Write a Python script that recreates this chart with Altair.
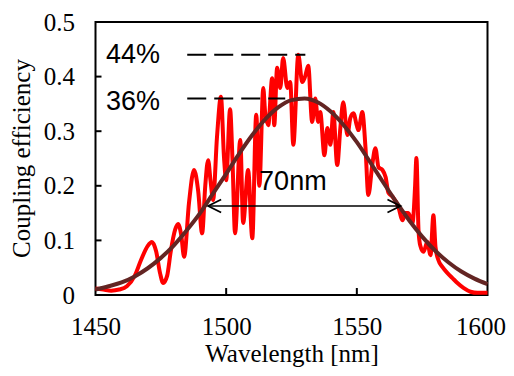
import altair as alt
import pandas as pd

# ---- data ----
red_wl = [1450.0, 1453.0, 1456.0, 1459.0, 1462.0, 1465.0, 1467.5, 1470.0, 1471.6, 1473.2,
          1474.7, 1475.9, 1477.4, 1478.8, 1480.5, 1481.6, 1482.8, 1483.9, 1485.8, 1487.7,
          1489.3, 1490.8, 1492.0, 1493.1, 1494.0, 1495.0, 1496.5, 1498.0, 1499.2, 1500.0,
          1501.5, 1502.4, 1503.4, 1505.4, 1506.5, 1508.4, 1510.0, 1511.5, 1512.7, 1514.2,
          1514.9, 1516.1, 1517.6, 1518.4, 1519.5, 1520.7, 1521.8, 1523.4, 1524.5, 1525.7,
          1527.6, 1529.1, 1530.2, 1531.4, 1532.9, 1534.1, 1535.2, 1536.0, 1537.6, 1538.7,
          1539.9, 1541.0, 1542.5, 1543.7, 1544.8, 1546.4, 1547.5, 1548.7, 1550.0, 1550.6,
          1552.1, 1553.3, 1554.4, 1556.0, 1557.1, 1558.3, 1559.8, 1561.0, 1562.1, 1563.7,
          1565.9, 1567.5, 1568.6, 1569.7, 1571.3, 1572.3, 1572.8, 1573.6, 1574.3, 1575.5,
          1577.0, 1578.2, 1579.3, 1580.1, 1581.2, 1582.8, 1584.7, 1586.6, 1588.5, 1590.8,
          1593.5, 1596.2, 1600.0]
red_eff = [0.012, 0.010, 0.008, 0.010, 0.016, 0.035, 0.065, 0.090, 0.097, 0.080,
           0.040, 0.022, 0.035, 0.080, 0.120, 0.130, 0.110, 0.070, 0.170, 0.229,
           0.190, 0.113, 0.200, 0.247, 0.210, 0.174, 0.290, 0.363, 0.250, 0.210,
           0.340, 0.250, 0.113, 0.284, 0.132, 0.229, 0.104, 0.330, 0.200, 0.379,
           0.335, 0.311, 0.397, 0.311, 0.416, 0.379, 0.434, 0.379, 0.390, 0.275,
           0.440, 0.390, 0.400, 0.420, 0.317, 0.360, 0.317, 0.335, 0.256, 0.306,
           0.275, 0.335, 0.238, 0.306, 0.353, 0.293, 0.324, 0.333, 0.310, 0.302,
           0.335, 0.271, 0.183, 0.242, 0.269, 0.234, 0.229, 0.216, 0.187, 0.180,
           0.161, 0.137, 0.150, 0.150, 0.132, 0.200, 0.251, 0.119, 0.090, 0.079,
           0.097, 0.073, 0.146, 0.088, 0.064, 0.051, 0.040, 0.031, 0.022, 0.013,
           0.006, 0.004, 0.004]

fit_wl = [1450, 1455, 1460, 1465, 1470, 1475, 1480, 1485, 1490, 1495, 1500, 1505,
          1510, 1515, 1520, 1525, 1530, 1535, 1540, 1545, 1550, 1555, 1560, 1565,
          1570, 1575, 1580, 1585, 1590, 1595, 1600]
fit_eff = [0.010, 0.016, 0.023, 0.034, 0.049, 0.068, 0.091, 0.119, 0.150, 0.186,
           0.222, 0.259, 0.293, 0.322, 0.344, 0.357, 0.360, 0.353, 0.336, 0.311,
           0.280, 0.244, 0.207, 0.171, 0.137, 0.107, 0.081, 0.060, 0.043, 0.030,
           0.020]

x_ticks = [1450, 1500, 1550, 1600]
y_ticks = [0, 0.1, 0.2, 0.3, 0.4, 0.5]
x_inner_ticks = [1500, 1550]
y_inner_ticks = [0.1, 0.2, 0.3, 0.4]

ann_text = ["44%", "36%", "70nm"]
ann_x = [1454.0, 1454.0, 1512.6]
ann_y = [0.425, 0.339, 0.192]

dash_y = [0.44, 0.36]
dash_x0 = [1485.1, 1485.1]
dash_x1 = [1530.3, 1522.6]

arrow_x0 = [1493.1]
arrow_x1 = [1566.7]
arrow_y = [0.163]

# ---- tables ----
red_df = pd.DataFrame({"wl": red_wl, "eff": red_eff})
fit_df = pd.DataFrame({"wl": fit_wl, "eff": fit_eff})
ann_df = pd.DataFrame({"t": ann_text, "wl": ann_x, "eff": ann_y})
dash_df = pd.DataFrame({"wl": dash_x0, "wl2": dash_x1, "eff": dash_y})
arr_df = pd.DataFrame({"wl": arrow_x0, "wl2": arrow_x1, "eff": arrow_y})
xt_df = pd.DataFrame({"wl": x_inner_ticks})
yt_df = pd.DataFrame({"eff": y_inner_ticks})

xs = alt.Scale(domain=[1450, 1600], nice=False, zero=False)
ys = alt.Scale(domain=[0, 0.5], nice=False)

SERIF = "Times New Roman, Liberation Serif, DejaVu Serif, serif"
SANS = "Liberation Sans, Arial, sans-serif"

x_axis = alt.Axis(values=x_ticks, format="d", ticks=False, tickSize=0, domain=False,
                  grid=False, labelFlush=False,
                  labelOffset={"condition": {"test": "datum.value == 1600", "value": -7},
                               "value": 0},
                  labelFont=SERIF, labelFontSize=25, labelColor="black",
                  labelPadding=39, labelBaseline="alphabetic",
                  title="Wavelength [nm]", titleFont=SERIF, titleFontSize=25,
                  titleFontWeight="normal", titleColor="black",
                  titleBaseline="alphabetic", titleY=66)
y_axis = alt.Axis(values=y_ticks, ticks=False, tickSize=0, domain=False, grid=False,
                  labelFlush=False,
                  labelExpr="datum.value == 0 ? '0' : format(datum.value, '.1f')",
                  labelFont=SERIF, labelFontSize=25, labelColor="black",
                  labelPadding=21,
                  title="Coupling efficiency", titleFont=SERIF, titleFontSize=25,
                  titleFontWeight="normal", titleColor="black",
                  titleAngle=270, titleBaseline="alphabetic", titleX=-66, titleY=136)

X = alt.X("wl:Q", scale=xs, axis=x_axis)
Y = alt.Y("eff:Q", scale=ys, axis=y_axis)

red = alt.Chart(red_df).mark_line(color="#FF0000", strokeWidth=4,
                                  interpolate="monotone").encode(x=X, y=Y)

fit = alt.Chart(fit_df).mark_line(color="#632523", strokeWidth=4,
                                  interpolate="monotone").encode(x=X, y=Y)

dashes = alt.Chart(dash_df).mark_rule(color="black", strokeWidth=2,
                                      strokeDash=[19, 8]).encode(x=X, x2="wl2:Q", y=Y)

arrow = alt.Chart(arr_df).mark_rule(color="black", strokeWidth=1.5).encode(
    x=X, x2="wl2:Q", y=Y)

head_l = alt.Chart(arr_df).mark_point(shape="M 2 -1 L 0 0 L 2 1", size=169,
                                      filled=False, color="black", strokeWidth=1.8,
                                      opacity=1).encode(x=X, y=Y)
head_r = alt.Chart(arr_df).transform_calculate(wl="datum.wl2").mark_point(
    shape="M -2 -1 L 0 0 L -2 1", size=169, filled=False, color="black",
    strokeWidth=1.8, opacity=1).encode(x=X, y=Y)

texts = alt.Chart(ann_df).mark_text(font=SANS, fontSize=27, align="left",
                                    baseline="alphabetic", color="black").encode(
    x=X, y=Y, text="t:N")

xticks = alt.Chart(xt_df).mark_rule(color="black", strokeWidth=2).encode(
    x=X, y=alt.value(273), y2=alt.value(266))
yticks = alt.Chart(yt_df).mark_rule(color="black", strokeWidth=2).encode(
    y=Y, x=alt.value(0), x2=alt.value(6))

chart = alt.layer(red, fit, dashes, arrow, head_l, head_r, texts, xticks, yticks).properties(
    width=392, height=273,
    autosize=alt.AutoSizeParams(type="none"),
    padding={"left": 87.5, "top": 14, "right": 18.5, "bottom": 73},
).configure_view(stroke="black", strokeWidth=2)

chart.save("out.html", embed_options={"renderer": "svg", "actions": False})
